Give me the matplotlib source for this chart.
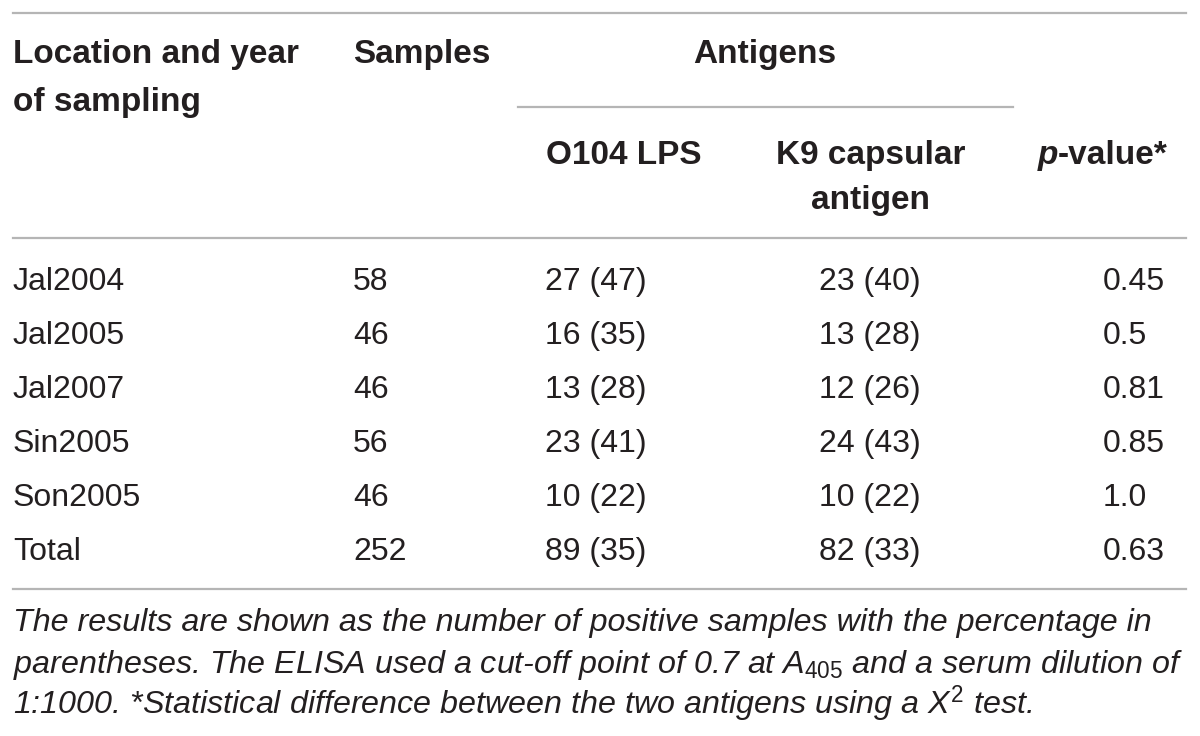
import matplotlib
matplotlib.use("Agg")
import matplotlib.pyplot as plt

plt.rcParams['font.family'] = ['Liberation Sans', 'DejaVu Sans']
plt.rcParams['mathtext.fontset'] = 'custom'
plt.rcParams['mathtext.rm'] = 'Liberation Sans'
plt.rcParams['mathtext.it'] = 'Liberation Sans:italic'

# table data
locations = ["Jal2004", "Jal2005", "Jal2007", "Sin2005", "Son2005", "Total"]
samples = [58, 46, 46, 56, 46, 252]
o104_pos = [27, 16, 13, 23, 10, 89]
o104_pct = [47, 35, 28, 41, 22, 35]
k9_pos = [23, 13, 12, 24, 10, 82]
k9_pct = [40, 28, 26, 43, 22, 33]
p_values = ["0.45", "0.5", "0.81", "0.85", "1.0", "0.63"]

footnote = [
    "The results are shown as the number of positive samples with the percentage in",
    r"parentheses. The ELISA used a cut-off point of 0.7 at $A_{405}$ and a serum dilution of",
    r"1:1000. *Statistical difference between the two antigens using a $X^{2}$ test.",
]

txt = "#231f20"
rule = "#b5b5b5"
fs = 23     # body
fs_h = 24   # header

fig = plt.figure(figsize=(12, 7.36), dpi=100)
ax = fig.add_axes([0, 0, 1, 1])
ax.set_xlim(0, 1200)
ax.set_ylim(736, 0)
ax.axis("off")

# rules
ax.plot([13, 1186], [13, 13], color=rule, lw=1.6)
ax.plot([518, 1013], [107, 107], color=rule, lw=1.6)
ax.plot([13, 1186], [238, 238], color=rule, lw=1.6)
ax.plot([13, 1186], [589, 589], color=rule, lw=1.6)

# header
hd = dict(fontsize=fs_h, fontweight="bold", color=txt, va="baseline")
ax.text(13, 63, "Location and year", ha="left", **hd)
ax.text(13, 111, "of sampling", ha="left", **hd)
ax.text(353, 63, "Samples", ha="left", **hd)
ax.text(765, 63, "Antigens", ha="center", **hd)
ax.text(546, 164, "O104 LPS", ha="left", **hd)
ax.text(871, 164, "K9 capsular", ha="center", **hd)
ax.text(871, 209, "antigen", ha="center", **hd)
pv = ax.text(1168, 164, "-value*", ha="right", **hd)
fig.canvas.draw()
bb = pv.get_window_extent().transformed(ax.transData.inverted())
ax.text(min(bb.x0, bb.x1), 164, "p", ha="right", style="italic", **hd)

# body rows
bd = dict(fontsize=fs, color=txt, va="baseline")
for i, loc in enumerate(locations):
    y = 290 + 54 * i
    ax.text(13, y, loc, ha="left", **bd)
    ax.text(353, y, str(samples[i]), ha="left", **bd)
    ax.text(545, y, f"{o104_pos[i]} ({o104_pct[i]})", ha="left", **bd)
    ax.text(870, y, f"{k9_pos[i]} ({k9_pct[i]})", ha="center", **bd)
    ax.text(1103, y, p_values[i], ha="left", **bd)

# footnote
for j, line in enumerate(footnote):
    ax.text(13, 631 + 41.5 * j, line, ha="left", va="baseline", fontsize=23.2,
            style="italic", color=txt)

fig.savefig("out.png", dpi=100)
